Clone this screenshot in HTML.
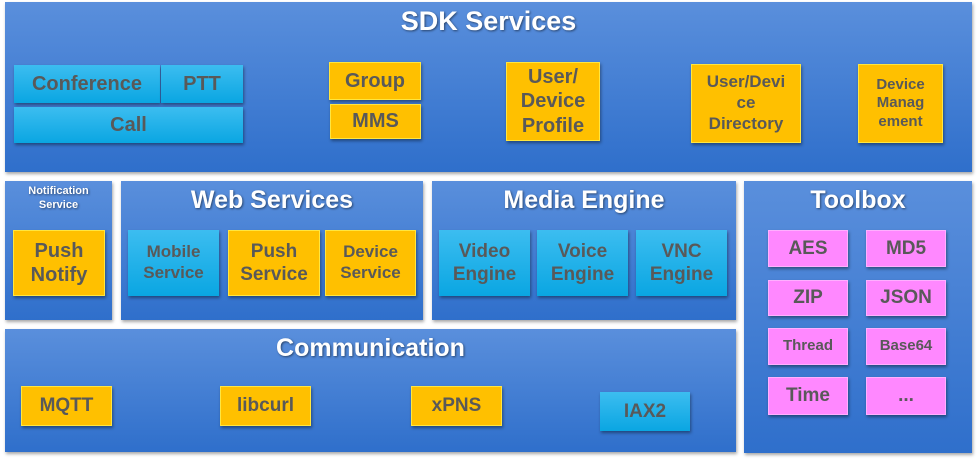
<!DOCTYPE html>
<html><head><style>
body{margin:0;width:979px;height:459px;background:#fff;position:relative;overflow:hidden;font-family:"Liberation Sans",sans-serif;}
.p{position:absolute;background:linear-gradient(#5a8fdc,#2f6fcb);box-shadow:1px 2px 3px rgba(0,0,0,.35);}
.t{position:absolute;color:#fff;font-weight:bold;text-align:center;text-shadow:1px 1px 2px rgba(0,0,0,.5);}
.b{position:absolute;display:flex;align-items:center;justify-content:center;text-align:center;font-weight:bold;color:#595959;box-shadow:1px 2px 3px rgba(0,0,0,.4);line-height:1.22;}
.y{background:#ffc000;border:1px solid #ffe640;box-sizing:border-box;}
.c{background:linear-gradient(#3cbdf0,#0aa6e2);}
.m{background:#ff88ff;border:1px solid #ffb0ff;box-sizing:border-box;}
</style></head><body>
<div class="p" style="left:5px;top:2px;width:967px;height:170px"></div>
<div class="t" style="left:5px;top:6px;width:967px;font-size:27px">SDK Services</div>
<div class="b c" style="left:14px;top:65px;width:146px;height:38px;font-size:20px">Conference</div>
<div class="b c" style="left:161px;top:65px;width:82px;height:38px;font-size:20px">PTT</div>
<div class="b c" style="left:14px;top:107px;width:229px;height:36px;font-size:20px">Call</div>
<div class="b y" style="left:329px;top:62px;width:92px;height:38px;font-size:20px">Group</div>
<div class="b y" style="left:330px;top:104px;width:91px;height:35px;font-size:20px">MMS</div>
<div class="b y" style="left:506px;top:62px;width:94px;height:79px;font-size:20px">User/<br>Device<br>Profile</div>
<div class="b y" style="left:691px;top:64px;width:110px;height:79px;font-size:17px">User/Devi<br>ce<br>Directory</div>
<div class="b y" style="left:858px;top:64px;width:85px;height:79px;font-size:15px">Device<br>Manag<br>ement</div>

<div class="p" style="left:5px;top:181px;width:107px;height:139px"></div>
<div class="t" style="left:5px;top:185px;width:107px;font-size:11px;line-height:1.25">Notification<br>Service</div>
<div class="b y" style="left:13px;top:230px;width:92px;height:66px;font-size:20px">Push<br>Notify</div>

<div class="p" style="left:121px;top:181px;width:302px;height:139px"></div>
<div class="t" style="left:121px;top:186px;width:302px;font-size:25px">Web Services</div>
<div class="b c" style="left:128px;top:230px;width:91px;height:66px;font-size:17px">Mobile<br>Service</div>
<div class="b y" style="left:228px;top:230px;width:92px;height:66px;font-size:19px">Push<br>Service</div>
<div class="b y" style="left:325px;top:230px;width:91px;height:66px;font-size:17px">Device<br>Service</div>

<div class="p" style="left:432px;top:181px;width:304px;height:139px"></div>
<div class="t" style="left:432px;top:186px;width:304px;font-size:25px">Media Engine</div>
<div class="b c" style="left:439px;top:230px;width:91px;height:66px;font-size:19px">Video<br>Engine</div>
<div class="b c" style="left:537px;top:230px;width:91px;height:66px;font-size:19px">Voice<br>Engine</div>
<div class="b c" style="left:636px;top:230px;width:91px;height:66px;font-size:19px">VNC<br>Engine</div>

<div class="p" style="left:744px;top:181px;width:228px;height:272px"></div>
<div class="t" style="left:744px;top:186px;width:228px;font-size:25px">Toolbox</div>
<div class="b m" style="left:768px;top:230px;width:80px;height:37px;font-size:19px">AES</div>
<div class="b m" style="left:866px;top:230px;width:80px;height:37px;font-size:19px">MD5</div>
<div class="b m" style="left:768px;top:280px;width:80px;height:36px;font-size:19px">ZIP</div>
<div class="b m" style="left:866px;top:280px;width:80px;height:36px;font-size:19px">JSON</div>
<div class="b m" style="left:768px;top:328px;width:80px;height:37px;font-size:15px">Thread</div>
<div class="b m" style="left:866px;top:328px;width:80px;height:37px;font-size:15px">Base64</div>
<div class="b m" style="left:768px;top:377px;width:80px;height:38px;font-size:19px">Time</div>
<div class="b m" style="left:866px;top:377px;width:80px;height:38px;font-size:19px">...</div>

<div class="p" style="left:5px;top:329px;width:731px;height:123px"></div>
<div class="t" style="left:5px;top:334px;width:731px;font-size:25px">Communication</div>
<div class="b y" style="left:21px;top:386px;width:91px;height:40px;font-size:19px">MQTT</div>
<div class="b y" style="left:220px;top:386px;width:91px;height:40px;font-size:19px">libcurl</div>
<div class="b y" style="left:411px;top:386px;width:91px;height:40px;font-size:19px">xPNS</div>
<div class="b c" style="left:600px;top:392px;width:90px;height:39px;font-size:19px">IAX2</div>
</body></html>
